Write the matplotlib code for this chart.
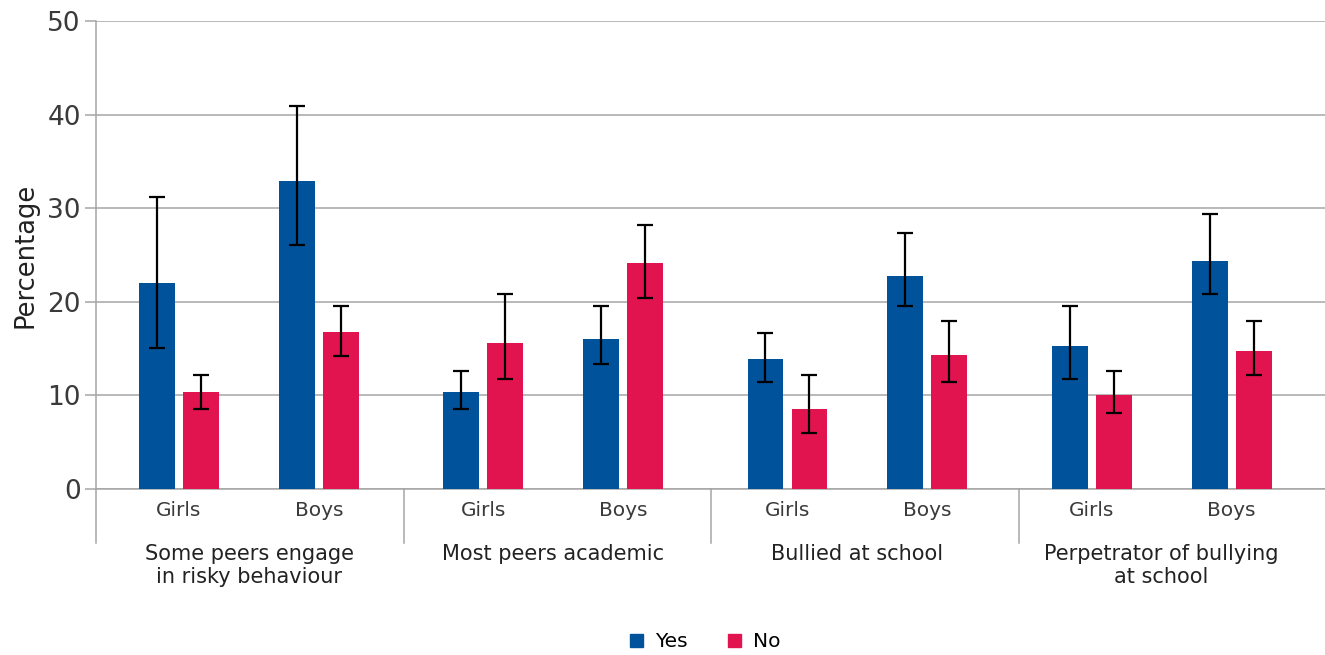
import matplotlib
matplotlib.use("Agg")
import matplotlib.pyplot as plt
import matplotlib.transforms as mtransforms
import numpy as np

plt.rcParams['font.family'] = ['DejaVu Sans']

groups = ["Some peers engage\nin risky behaviour", "Most peers academic",
          "Bullied at school", "Perpetrator of bullying\nat school"]
subgroups = ["Girls", "Boys"]
series = ["Yes", "No"]

# values per group: [Girls, Boys]
yes_vals = [[22.0, 32.9], [10.4, 16.0], [13.9, 22.8], [15.3, 24.4]]
yes_low = [[15.1, 26.1], [8.5, 13.4], [11.4, 19.6], [11.8, 20.8]]
yes_high = [[31.2, 40.9], [12.6, 19.6], [16.7, 27.4], [19.6, 29.4]]
no_vals = [[10.4, 16.8], [15.6, 24.1], [8.6, 14.3], [10.0, 14.7]]
no_low = [[8.5, 14.2], [11.8, 20.4], [6.0, 11.4], [8.1, 12.2]]
no_high = [[12.2, 19.6], [20.8, 28.2], [12.2, 17.9], [12.6, 17.9]]

yticks = [0, 10, 20, 30, 40, 50]

blue = "#00529B"
red = "#E1144F"
grid_c = "#A5A5A5"
txt_c = "#3a3a3a"

fig = plt.figure(figsize=(13.25, 6.55), dpi=100)
ax = fig.add_axes([96/1325, (655-489)/655, (1325-96)/1325, 468/655])

sub_off = [-0.23, 0.23]
bw = 0.118
so = 0.0723

for g in range(len(groups)):
    for s in range(2):
        xc = g + sub_off[s]
        for vals, lo, hi, col, sgn in [(yes_vals, yes_low, yes_high, blue, -1),
                                       (no_vals, no_low, no_high, red, 1)]:
            v = vals[g][s]
            x = xc + sgn * so
            ax.bar(x, v, width=bw, color=col, zorder=3)
            ax.errorbar(x, v, yerr=[[v - lo[g][s]], [hi[g][s] - v]], fmt='none',
                        ecolor='black', elinewidth=1.6, capsize=6, capthick=1.6, zorder=4)

ax.set_xlim(-0.503, 3.537)
ax.set_ylim(0, 50)
ax.set_yticks(yticks)
ax.set_yticklabels([str(t) for t in yticks], fontsize=19, color=txt_c)
ax.tick_params(axis='y', length=8, width=1.1, color=grid_c, pad=3)
ax.set_xticks([])
ax.yaxis.grid(True, color=grid_c, linewidth=1.1, zorder=0)
ax.set_axisbelow(True)
for sp in ['top', 'right']:
    ax.spines[sp].set_visible(False)
ax.spines['left'].set_color(grid_c)
ax.spines['left'].set_linewidth(1.1)
ax.spines['bottom'].set_color(grid_c)
ax.spines['bottom'].set_linewidth(1.1)

ax.set_ylabel("Percentage", fontsize=18.5, color="#222222", labelpad=6)

trans = mtransforms.blended_transform_factory(ax.transData, ax.transAxes)
sep_bottom = -(543-489)/468
for b in [-0.503, 0.51, 1.52, 2.53]:
    ax.plot([b, b], [0, sep_bottom], transform=trans, color=grid_c, lw=1.1, clip_on=False)

for g in range(len(groups)):
    for s in range(2):
        ax.text(g + sub_off[s], -0.047, subgroups[s], transform=trans, ha='center', va='center',
                fontsize=14.5, color=txt_c)
    ax.text(g, -0.117, groups[g], transform=trans, ha='center', va='top',
            fontsize=15, color="#222222", linespacing=1.2)

handles = [plt.Rectangle((0, 0), 1, 1, color=blue), plt.Rectangle((0, 0), 1, 1, color=red)]
fig.legend(handles, series, loc='center', bbox_to_anchor=(0.532, 0.02), ncol=2, frameon=False,
           fontsize=14.5, handlelength=0.65, handleheight=0.65, columnspacing=2.0, handletextpad=0.6)

fig.savefig("out.png", dpi=100)
